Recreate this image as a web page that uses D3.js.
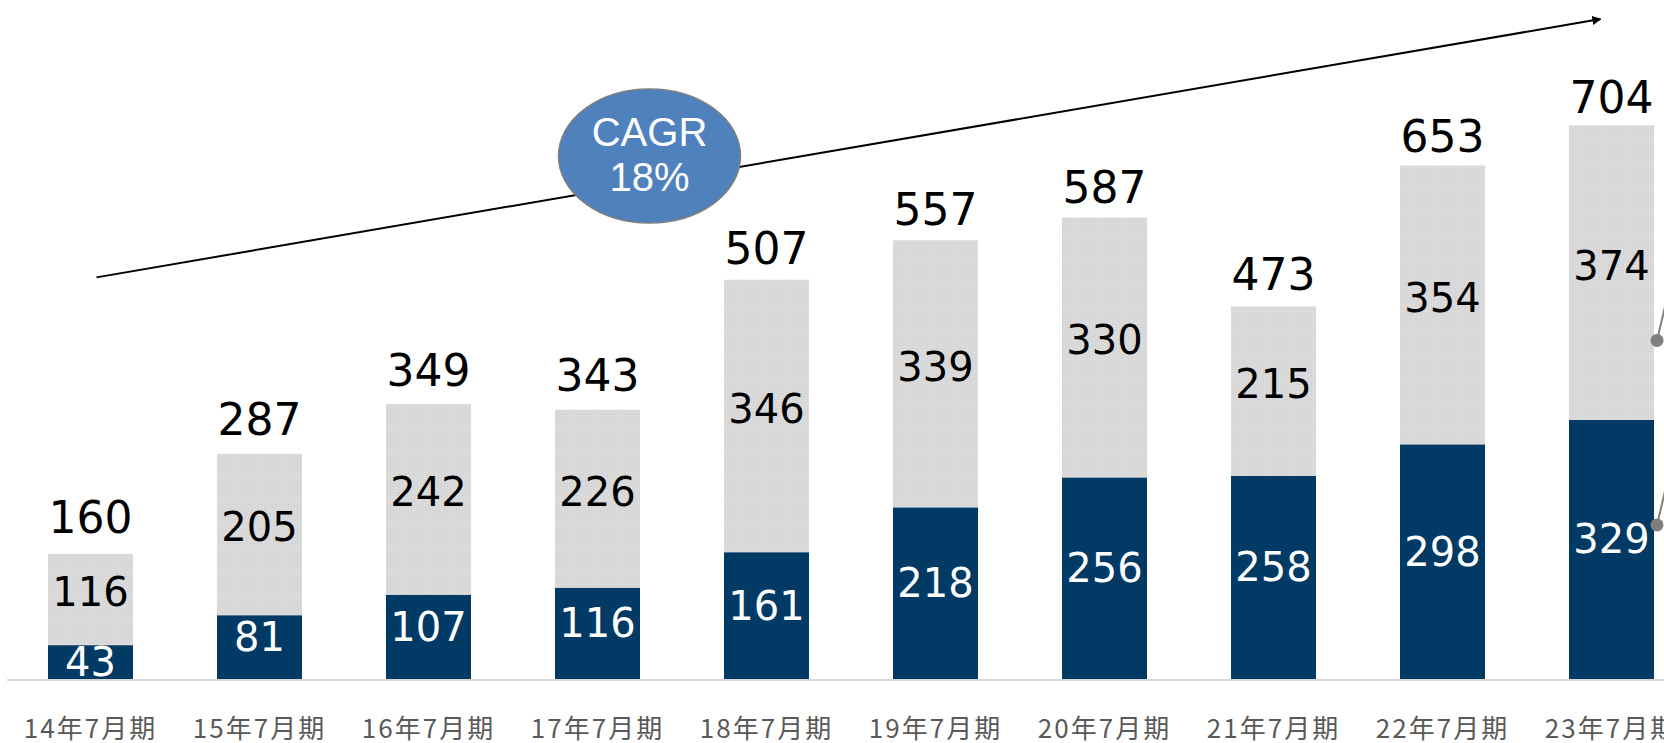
<!DOCTYPE html>
<html>
<head>
<meta charset="utf-8">
<script src="https://cdn.jsdelivr.net/npm/d3@7"></script>
<style>
  html, body { margin: 0; padding: 0; background: #fff; }
  svg { display: block; }
</style>
</head>
<body>
<div id="chart"></div>
<script>
const categories = ["14年7月期", "15年7月期", "16年7月期", "17年7月期", "18年7月期",
                    "19年7月期", "20年7月期", "21年7月期", "22年7月期", "23年7月期"];
const darkValues = [43, 81, 107, 116, 161, 218, 256, 258, 298, 329];
const lightValues = [116, 205, 242, 226, 346, 339, 330, 215, 354, 374];
const totals = [160, 287, 349, 343, 507, 557, 587, 473, 653, 704];
const cagrLabel = ["CAGR", "18%"];

const W = 1664, H = 743;
const baseY = 679;

const svg = d3.select("#chart")
  .append("svg")
  .attr("width", W)
  .attr("height", H);

// dotted texture for the light segments
const defs = svg.append("defs");
const pat = defs.append("pattern")
  .attr("id", "dots")
  .attr("width", 3)
  .attr("height", 3)
  .attr("patternUnits", "userSpaceOnUse");
pat.append("rect").attr("width", 3).attr("height", 3).attr("fill", "#dadada");
pat.append("rect").attr("width", 1).attr("height", 1).attr("fill", "#cfcfcf");

const x = d3.scaleBand()
  .domain(categories)
  .range([-36, 1738])
  .padding(0.497);

const y = d3.scaleLinear()
  .domain([0, 800])
  .range([baseY, baseY - 630]);

const data = categories.map((c, i) => ({ cat: c, dark: darkValues[i], light: lightValues[i], total: totals[i] }));
const stack = d3.stack().keys(["dark", "light"])(data);
const fills = { dark: "#023a66", light: "url(#dots)" };

// clip so labels don't spill under the axis
defs.append("clipPath").attr("id", "plot")
  .append("rect").attr("x", 0).attr("y", 0).attr("width", W).attr("height", baseY);

// axis line
svg.append("line")
  .attr("x1", 7).attr("x2", W)
  .attr("y1", baseY + 1).attr("y2", baseY + 1)
  .attr("stroke", "#d9d9d9")
  .attr("stroke-width", 2);

// bars
svg.selectAll("g.series")
  .data(stack)
  .join("g")
  .attr("class", "series")
  .attr("fill", d => fills[d.key])
  .selectAll("rect")
  .data(d => d)
  .join("rect")
  .attr("x", d => x(d.data.cat))
  .attr("y", d => y(d[1]))
  .attr("width", x.bandwidth())
  .attr("height", d => y(d[0]) - y(d[1]));

// labels inside segments
const valueFont = "'DejaVu Sans', Verdana, sans-serif";
stack.forEach(s => {
  svg.append("g")
    .attr("clip-path", "url(#plot)")
    .selectAll("text")
    .data(s)
    .join("text")
    .attr("x", d => x(d.data.cat) + x.bandwidth() / 2)
    .attr("y", d => {
      const mid = (y(d[0]) + y(d[1])) / 2;
      const h = y(d[0]) - y(d[1]);
      if (s.key === "dark") return h > 60 ? mid - 10 : mid;
      return mid - 7;
    })
    .attr("text-anchor", "middle")
    .attr("dominant-baseline", "central")
    .attr("font-family", valueFont)
    .attr("font-size", 40)
    .attr("fill", s.key === "dark" ? "#fff" : "#000")
    .text(d => d.data[s.key]);
});

// totals above bars
svg.append("g")
  .selectAll("text")
  .data(data)
  .join("text")
  .attr("x", d => x(d.cat) + x.bandwidth() / 2)
  .attr("y", d => {
    const top = y(d.dark + d.light);
    const h = baseY - top;
    return top - (21 - 0.0196 * (h - 126));
  })
  .attr("text-anchor", "middle")
  .attr("font-family", valueFont)
  .attr("font-size", 44)
  .attr("fill", "#000")
  .text(d => d.total);

// category labels
svg.append("g")
  .selectAll("text")
  .data(categories)
  .join("text")
  .attr("x", d => x(d) + x.bandwidth() / 2)
  .attr("y", 726)
  .attr("text-anchor", "middle")
  .attr("dominant-baseline", "central")
  .attr("font-family", "'Noto Sans CJK JP', sans-serif")
  .attr("font-size", 26)
  .attr("letter-spacing", 2)
  .attr("fill", "#595959")
  .text(d => d);

// CAGR trend arrow
defs.append("marker")
  .attr("id", "arrow")
  .attr("viewBox", "0 0 10 10")
  .attr("refX", 9).attr("refY", 5)
  .attr("markerWidth", 9).attr("markerHeight", 9)
  .attr("markerUnits", "userSpaceOnUse")
  .attr("orient", "auto")
  .append("path")
  .attr("d", "M0,0 L10,5 L0,10 Z")
  .attr("fill", "#000");

const first = categories[0], last = categories[categories.length - 1];
svg.append("line")
  .attr("x1", x(first) + x.bandwidth() / 2 + 6)
  .attr("y1", y(510))
  .attr("x2", x(last) + x.bandwidth() / 2 - 11)
  .attr("y2", y(838))
  .attr("stroke", "#000")
  .attr("stroke-width", 2)
  .attr("marker-end", "url(#arrow)");

// CAGR bubble
const bubble = svg.append("g").attr("transform", "translate(649.5,156)");
bubble.append("ellipse")
  .attr("rx", 91).attr("ry", 67)
  .attr("fill", "#4f81bd")
  .attr("stroke", "#7f7f7f")
  .attr("stroke-width", 1.5);
bubble.selectAll("text")
  .data(cagrLabel)
  .join("text")
  .attr("x", 0)
  .attr("y", (d, i) => i === 0 ? -10 : 35)
  .attr("text-anchor", "middle")
  .attr("font-family", "'Liberation Sans', Arial, sans-serif")
  .attr("font-size", 40)
  .attr("fill", "#fff")
  .text(d => d);

// callout leaders cut off at the right edge
const lastX = x(last) + x.bandwidth();
const leaders = [y(329 + 374) + 215, y(329) + 105];
leaders.forEach(ly => {
  svg.append("line")
    .attr("x1", lastX + 3).attr("y1", ly)
    .attr("x2", W + 2).attr("y2", ly - 38)
    .attr("stroke", "#7f7f7f")
    .attr("stroke-width", 2);
  svg.append("circle")
    .attr("cx", lastX + 3).attr("cy", ly)
    .attr("r", 6.5)
    .attr("fill", "#7f7f7f");
});
</script>
</body>
</html>
